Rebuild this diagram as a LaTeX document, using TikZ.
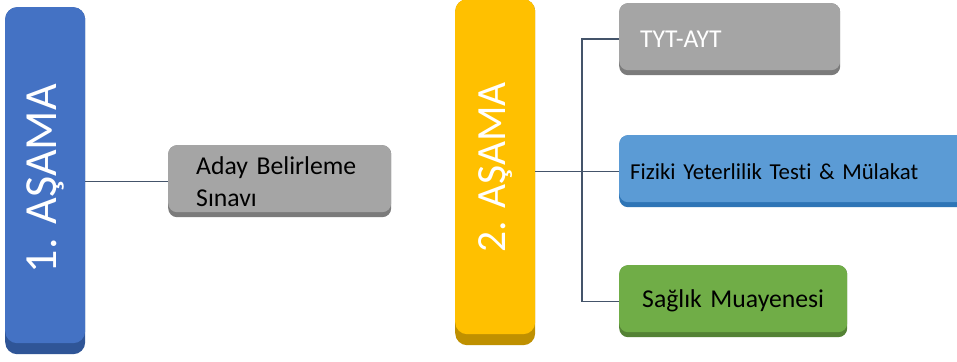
\documentclass[tikz,border=0pt]{standalone}
\usepackage{fontspec}
\setmainfont{Carlito}[Ligatures=NoCommon]
\definecolor{stblue}{HTML}{4472C4}
\definecolor{stbluedk}{HTML}{2F5597}
\definecolor{styel}{HTML}{FFC000}
\definecolor{styeldk}{HTML}{BF9000}
\definecolor{bxgray}{HTML}{A5A5A5}
\definecolor{bxgraydk}{HTML}{7B7B7B}
\definecolor{bxblue}{HTML}{5B9BD5}
\definecolor{bxbluedk}{HTML}{2E75B6}
\definecolor{bxgreen}{HTML}{70AD47}
\definecolor{bxgreendk}{HTML}{548235}
\definecolor{conn}{HTML}{44546A}
\tikzset{
  x=1pt, y=-1pt,
  bevel/.style n args={4}{% light, dark, radius, strip
    draw=none, fill=#2, rounded corners=#3, inner sep=0pt, anchor=north west,
    path picture={\fill[#1, rounded corners=#3] (path picture bounding box.north west) rectangle ([yshift=#4]path picture bounding box.south east);}},
  stagebox/.style 2 args={bevel={#1}{#2}{12pt}{11pt}, minimum width=80pt},
  itembox/.style 2 args={bevel={#1}{#2}{9pt}{5pt}, minimum height=72pt, align=left},
  stagetext/.style={rotate=90, text=white, inner sep=0pt},
  connline/.style={draw=conn, line width=1.4pt},
}
\begin{document}
\begin{tikzpicture}
\clip (0,0) rectangle (957,361);
\fill[white] (0,0) rectangle (957,361);
% stage boxes
\node[stagebox={stblue}{stbluedk}, minimum height=347pt] (s1) at (5,7) {};
\node[stagetext, font=\fontsize{46}{50}\selectfont] (t1) at ([yshift=2pt]s1.center) {1. AŞAMA};
\node[stagebox={styel}{styeldk}, minimum height=346pt] (s2) at (455,-1) {};
\node[stagetext, font=\fontsize{41.5}{46}\selectfont] (t2) at ([yshift=5pt]s2.center) {2. AŞAMA};
% item boxes
\node[itembox={bxgray}{bxgraydk}, text width=167pt, inner xsep=28pt, font=\fontsize{25.7}{32}\selectfont] (aday) at (168,145) {Aday Belirleme\\Sınavı};
\node[itembox={bxgray}{bxgraydk}, text width=179pt, inner xsep=21pt, text=white, font=\fontsize{25.7}{31}\selectfont] (tyt) at (619,3) {TYT-AYT};
\node[itembox={bxblue}{bxbluedk}, text width=378pt, inner xsep=11pt, font=\fontsize{22.8}{28}\selectfont] (fiz) at (619,135) {Fiziki Yeterlilik Testi \& Mülakat};
\node[itembox={bxgreen}{bxgreendk}, text width=182pt, inner xsep=23pt, font=\fontsize{25.7}{31}\selectfont] (sag) at (619,265) {Sağlık Muayenesi};
% connectors
\coordinate (jx) at (582,0);
\draw[connline] (s1.east |- aday.west) -- (aday.west);
\draw[connline] (s2.east |- fiz.west) -- (fiz.west);
\draw[connline] (tyt.west) -- (tyt.west -| jx) -- (sag.west -| jx) -- (sag.west);
\end{tikzpicture}
\end{document}
